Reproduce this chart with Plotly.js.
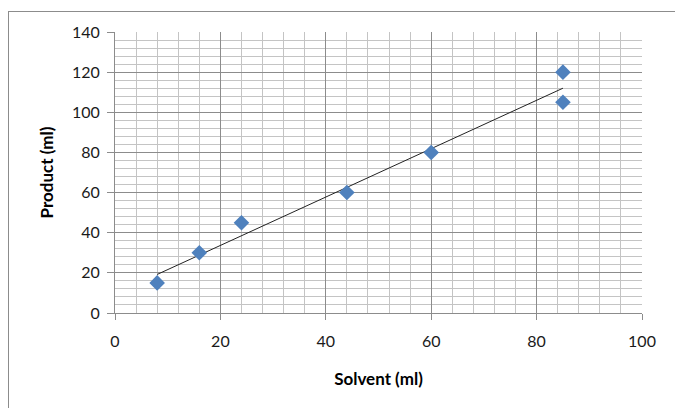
<!DOCTYPE html>
<html>
<head>
<meta charset="utf-8">
<script src="https://cdn.plot.ly/plotly-3.0.1.min.js"></script>
<style>
html,body{margin:0;padding:0;background:#fff;overflow:hidden;}
#frame{position:absolute;left:8px;top:11px;width:700px;height:420px;border:1px solid #8c8c8c;box-sizing:border-box;}
#chart{position:absolute;left:0;top:0;width:675px;height:408px;}
</style>
</head>
<body>
<div id="frame"></div>
<div id="chart"></div>
<script>
const solvent = [8, 16, 24, 44, 60, 85, 85];
const product = [15, 30, 45, 60, 80, 105, 120];
const xTicks = [0, 20, 40, 60, 80, 100];
const yTicks = [0, 20, 40, 60, 80, 100, 120, 140];

// linear trendline (least squares) from the data
const n = solvent.length;
const mx = solvent.reduce((a,b)=>a+b,0)/n;
const my = product.reduce((a,b)=>a+b,0)/n;
let sxy = 0, sxx = 0;
for (let i=0;i<n;i++){ sxy += (solvent[i]-mx)*(product[i]-my); sxx += (solvent[i]-mx)**2; }
const slope = sxy/sxx, icpt = my - slope*mx;
const xMin = Math.min(...solvent), xMax = Math.max(...solvent);
const trendX = [xMin, xMax];
const trendY = trendX.map(x => icpt + slope*x);

const tickFont = {family: 'Lato, "Liberation Sans", sans-serif', size: 16, color: '#1a1a1a'};
const titleFont = {family: 'Lato, "Liberation Sans", sans-serif', size: 17, color: '#000'};

const data = [
  {x: trendX, y: trendY, mode: 'lines', type: 'scatter',
   line: {color: '#222', width: 1}, hoverinfo: 'skip'},
  {x: solvent, y: product, mode: 'markers', type: 'scatter',
   marker: {symbol: 'diamond', size: 12, color: '#4F81BD'}}
];

const axisCommon = {
  showline: true, linecolor: '#8c8c8c', linewidth: 1,
  ticks: 'outside', ticklen: 6, tickcolor: '#8c8c8c', tickwidth: 1,
  showgrid: true, gridcolor: '#8c8c8c', gridwidth: 1,
  zeroline: false, tickfont: tickFont,
  minor: {dtick: 4, showgrid: true, gridcolor: '#c4c4c4', gridwidth: 1, ticks: ''}
};

const layout = {
  width: 675, height: 408,
  margin: {l: 115, r: 33, t: 32, b: 95},
  paper_bgcolor: 'rgba(0,0,0,0)', plot_bgcolor: '#fff',
  showlegend: false,
  font: tickFont,
  xaxis: Object.assign({}, axisCommon, {
    range: [0, 100], tickvals: xTicks, ticktext: xTicks.map(String),
    ticklabelstandoff: 8,
    title: {text: '<b>Solvent (ml)</b>', font: titleFont, standoff: 23}
  }),
  yaxis: Object.assign({}, axisCommon, {
    range: [0, 140], tickvals: yTicks, ticktext: yTicks.map(String),
    ticklen: 7, ticklabelstandoff: 4,
    title: {text: '<b>Product (ml)</b>', font: titleFont, standoff: 14}
  })
};

Plotly.newPlot('chart', data, layout, {staticPlot: true, displayModeBar: false});
</script>
</body>
</html>
